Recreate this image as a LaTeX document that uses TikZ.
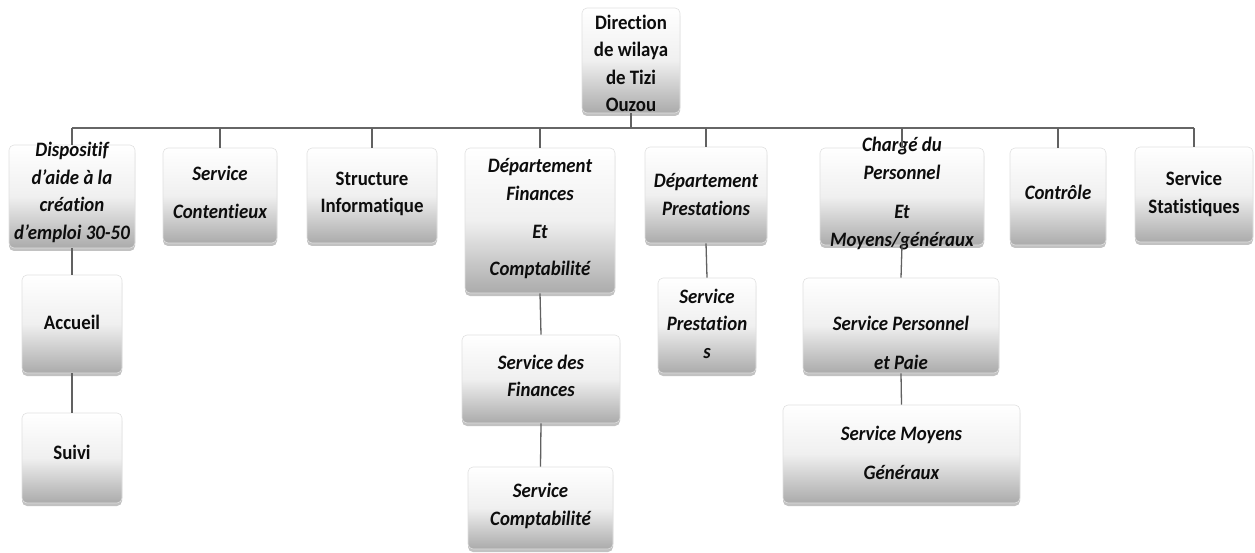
\documentclass[tikz,border=0pt]{standalone}
\usepackage{fontspec}
\setmainfont[Ligatures=NoCommon, FakeStretch=0.92]{Carlito}
\usetikzlibrary{shadows}
\newcommand\bxfont{\fontsize{20.5pt}{27.5pt}\selectfont\bfseries}
\newcommand\mkbox[5]{\node[orgbox, minimum width={(#4)-(#2)}, minimum height={(#5)-(#3)}] (#1) at ({((#2)+(#4))/2},{((#3)+(#5))/2}) {};}
\tikzset{
  orgbox/.style={rectangle, rounded corners=5pt, draw=black!12, line width=0.6pt,
    top color=white, bottom color=black!33, middle color=black!6,
    drop shadow={shadow xshift=0pt, shadow yshift=-3pt, opacity=0.4, fill=black!60},
    inner sep=0pt},
  uptxt/.style={font=\bxfont, align=center, text=black!95, inner sep=0pt},
  ittxt/.style={font=\bxfont\itshape, align=center, text=black!95, inner sep=0pt},
  busline/.style={draw=black!60, line width=2.4pt},
  link/.style={draw=black!62, line width=1.3pt},
}
\begin{document}
\begin{tikzpicture}[x=1pt, y=-1pt]
\useasboundingbox (0,0) rectangle (1255,553);
% boxes
\mkbox{top}{582}{8}{680}{113}
\mkbox{disp}{9}{145}{135}{248}
\mkbox{cont}{163}{148}{277}{243}
\mkbox{struct}{307}{148}{437}{243}
\mkbox{fin}{465}{148}{615}{293}
\mkbox{prest}{645}{147}{767}{243}
\mkbox{charge}{820}{148}{984}{245}
\mkbox{ctrl}{1010}{148}{1106}{245}
\mkbox{stat}{1135}{147}{1253}{242}
\mkbox{accueil}{22}{275}{122}{373}
\mkbox{suivi}{22}{413}{122}{503}
\mkbox{sfin}{462}{335}{620}{423}
\mkbox{scompta}{468}{467}{613}{549}
\mkbox{sprest}{658}{278}{756}{373}
\mkbox{spers}{803}{278}{999}{373}
\mkbox{smoy}{783}{405}{1020}{503}
% texts
\node[uptxt] (top-t) at (631,63.5) {Direction\\de wilaya\\de Tizi\\Ouzou};
\node[ittxt] (disp-t) at (72,192.5) {\fontsize{20.5pt}{25pt}\selectfont Dispositif\\d’aide à la\\création\\d’emploi 30-50};
\node[ittxt] (cont-t) at (220,192) {Service\\[10.5pt]Contentieux};
\node[uptxt] (struct-t) at (372,194) {Structure\\Informatique};
\node[ittxt] (fin-t) at (540,218.5) {Département\\Finances\\[11pt]Et\\[9pt]Comptabilité};
\node[ittxt] (prest-t) at (706,194.5) {Département\\Prestations};
\node[ittxt] (charge-t) at (902,193.5) {Chargé du\\Personnel\\[12pt]Et\\Moyens/généraux};
\node[ittxt] (ctrl-t) at (1058,192) {Contrôle};
\node[uptxt] (stat-t) at (1194,194) {Service\\Statistiques};
\node[uptxt] (accueil-t) at (72,322) {Accueil};
\node[uptxt] (suivi-t) at (72,452) {Suivi};
\node[ittxt] (sfin-t) at (541,376) {Service des\\Finances};
\node[ittxt] (scompta-t) at (540.5,506) {Service\\Comptabilité};
\node[ittxt] (sprest-t) at (707,323.5) {Service\\Prestation\\s};
\node[ittxt] (spers-t) at (901,342.5) {Service Personnel\\[11.5pt]et Paie};
\node[ittxt] (smoy-t) at (901.5,452.5) {Service Moyens\\[11.5pt]Généraux};
% connectors
\coordinate (bl) at (72,128);
\coordinate (br) at (1194,128);
\draw[busline] (bl) -- (br);
\draw[link] (top.south) -- (top.south |- bl);
\foreach \n in {disp,cont,struct,fin,prest,charge,ctrl,stat}
  \draw[link] (\n.north |- bl) -- (\n.north);
\draw[link] (disp.south) -- (accueil.north);
\draw[link] (accueil.south) -- (suivi.north);
\draw[link] (fin.south) -- (sfin.north);
\draw[link] (sfin.south) -- (scompta.north);
\draw[link] (prest.south) -- (sprest.north);
\draw[link] (charge.south) -- (spers.north);
\draw[link] (spers.south) -- (smoy.north);
\end{tikzpicture}
\end{document}
